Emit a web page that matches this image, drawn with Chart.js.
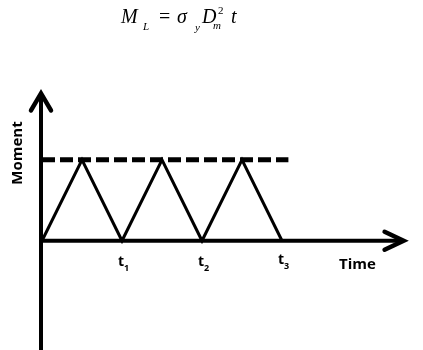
<!DOCTYPE html>
<html><head><meta charset="utf-8">
<script src="https://cdn.jsdelivr.net/npm/chart.js@4"></script>
<style>html,body{margin:0;padding:0;background:#fff}#wrap{width:423px;height:350px}</style>
</head><body><div id="wrap"><canvas id="c" width="423" height="350"></canvas></div>
<script>
const timeValues = [0, 0.5, 1, 1.5, 2, 2.5, 3];
const momentValues = [0, 1, 0, 1, 0, 1, 0];
const limitTime = [0, 3.08];
const limitMoment = [1, 1];
const tickPositions = [1, 2, 3];
const tickNames = ['t', 't', 't'];
const tickSubs = ['1', '2', '3'];
const xTitle = 'Time';
const yTitle = 'Moment';

const axesPlugin = {
  id: 'axesPlugin',
  afterDraw(chart) {
    const ctx = chart.ctx, xs = chart.scales.x, ys = chart.scales.y;
    const x0 = xs.getPixelForValue(0) - 1, y0 = ys.getPixelForValue(0);
    const xEnd = xs.getPixelForValue(4.52), yTop = ys.getPixelForValue(1.82), yBot = ys.getPixelForValue(-1.35);
    ctx.save();
    ctx.strokeStyle = '#000'; ctx.lineWidth = 4; ctx.lineCap = 'butt';
    ctx.beginPath(); ctx.moveTo(x0, yBot); ctx.lineTo(x0, yTop + 3); ctx.stroke();
    ctx.beginPath(); ctx.moveTo(x0, y0); ctx.lineTo(xEnd - 3, y0); ctx.stroke();
    ctx.lineWidth = 4.5; ctx.lineCap = 'round'; ctx.lineJoin = 'miter';
    ctx.beginPath(); ctx.moveTo(x0 - 10, yTop + 17); ctx.lineTo(x0, yTop); ctx.lineTo(x0 + 10, yTop + 17); ctx.stroke();
    ctx.beginPath(); ctx.moveTo(xEnd - 19, y0 - 9); ctx.lineTo(xEnd, y0); ctx.lineTo(xEnd - 19, y0 + 9); ctx.stroke();
    ctx.fillStyle = '#000';
    ctx.textBaseline = 'alphabetic';
    tickPositions.forEach((v, i) => {
      const px = xs.getPixelForValue(v);
      const base = i === 2 ? 264 : 266;
      ctx.font = 'bold 14px "Open Sans"'; ctx.textAlign = 'left';
      ctx.fillText(tickNames[i], px - 4, base);
      ctx.font = 'bold 9px "Open Sans"';
      ctx.fillText(tickSubs[i], px + 2, base + 5);
    });
    ctx.font = 'bold 15px "Open Sans"'; ctx.textAlign = 'left';
    ctx.fillText(xTitle, 339, 269);
    ctx.save(); ctx.translate(22, 153); ctx.rotate(-Math.PI / 2);
    ctx.textAlign = 'center'; ctx.font = 'bold 15px "Open Sans"';
    ctx.fillText(yTitle, 0, 0); ctx.restore();
    // formula
    ctx.font = 'italic 20px "Liberation Serif"'; ctx.textAlign = 'left';
    ctx.fillText('M', 121, 23);
    ctx.fillText('σ', 177, 23);
    ctx.fillText('D', 202, 23);
    ctx.fillText('t', 231, 23);
    ctx.font = '20px "Liberation Serif"';
    ctx.fillText('=', 159, 23);
    ctx.font = 'italic 11px "Liberation Serif"';
    ctx.fillText('L', 143, 30);
    ctx.fillText('y', 195, 31);
    ctx.fillText('m', 213, 29);
    ctx.font = '11px "Liberation Serif"';
    ctx.fillText('2', 218, 14);
    ctx.restore();
  }
};

new Chart(document.getElementById('c'), {
  type: 'scatter',
  data: {
    datasets: [
      { data: timeValues.map((t, i) => ({ x: t, y: momentValues[i] })), showLine: true, borderColor: '#000', borderWidth: 3, pointRadius: 0, tension: 0 },
      { data: limitTime.map((t, i) => ({ x: t, y: limitMoment[i] })), showLine: true, borderColor: '#000', borderWidth: 5, borderDash: [13, 5], pointRadius: 0 }
    ]
  },
  options: {
    responsive: false, animation: false,
    layout: { padding: { left: 2, right: 1, top: 87, bottom: 0 } },
    plugins: { legend: { display: false }, tooltip: { enabled: false } },
    scales: {
      x: { type: 'linear', min: -0.5, max: 4.75, display: false },
      y: { type: 'linear', min: -1.35, max: 1.9, display: false }
    }
  },
  plugins: [axesPlugin]
});
</script></body></html>
